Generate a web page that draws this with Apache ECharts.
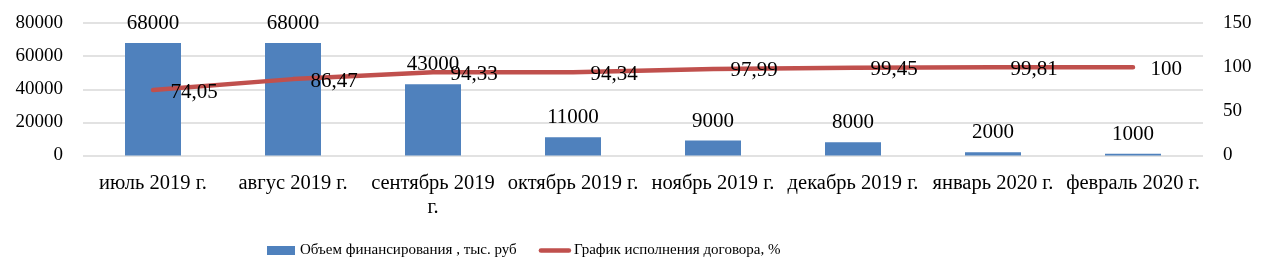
<!DOCTYPE html>
<html><head><meta charset="utf-8">
<script src="https://cdn.jsdelivr.net/npm/echarts@6/dist/echarts.min.js"></script>
<style>html,body{margin:0;padding:0;background:#fff}#c{width:1266px;height:278px}</style>
</head><body><div id="c"></div>
<script>
const categories = ['июль 2019 г.', 'авгус 2019 г.', 'сентябрь 2019\nг.', 'октябрь 2019 г.', 'ноябрь 2019 г.', 'декабрь 2019 г.', 'январь 2020 г.', 'февраль 2020 г.'];
const funding = [68000, 68000, 43000, 11000, 9000, 8000, 2000, 1000];
const progress = [74.05, 86.47, 94.33, 94.34, 97.99, 99.45, 99.81, 100];
const fundingName = 'Объем финансирования , тыс. руб';
const progressName = 'График исполнения договора, %';

const FONT = 'Liberation Serif';
const chart = echarts.init(document.getElementById('c'), null, {renderer: 'canvas'});
chart.setOption({
  animation: false,
  textStyle: {fontFamily: FONT, color: '#000'},
  grid: {left: 83, right: 63, top: 23, bottom: 122.5, containLabel: false},
  legend: {
    left: 262, top: 238, itemWidth: 28, itemHeight: 9, itemGap: 22,
    textStyle: {fontFamily: FONT, fontSize: 15, color: '#000'},
    data: [{name: fundingName, icon: 'rect'},
           {name: progressName, itemStyle: {opacity: 0}, lineStyle: {width: 4.5, cap: 'round'}}]
  },
  xAxis: {
    type: 'category', data: categories,
    axisLine: {show: false}, axisTick: {show: false},
    axisLabel: {fontFamily: FONT, fontSize: 20.5, color: '#000', margin: 16, interval: 0, lineHeight: 24}
  },
  yAxis: [{
    type: 'value', min: 0, max: 80000, interval: 20000,
    axisLine: {show: false}, axisTick: {show: false},
    axisLabel: {fontFamily: FONT, fontSize: 19, color: '#000', margin: 20, formatter: v => String(v)},
    splitLine: {lineStyle: {color: '#d9d9d9', width: 1.5}}
  }, {
    type: 'value', min: 0, max: 150, interval: 50,
    axisLine: {show: false}, axisTick: {show: false},
    axisLabel: {fontFamily: FONT, fontSize: 19, color: '#000', margin: 20, formatter: v => String(v)},
    splitLine: {show: false}
  }],
  series: [{
    name: fundingName, type: 'bar', data: funding, barWidth: '40%',
    itemStyle: {color: '#4F81BD'},
    label: {show: true, position: 'top', distance: 9, fontFamily: FONT, fontSize: 21, color: '#000'}
  }, {
    name: progressName, type: 'line', yAxisIndex: 1, data: progress,
    symbol: 'circle', symbolSize: 1, showSymbol: true,
    lineStyle: {color: '#C0504D', width: 4.5, cap: 'round'},
    itemStyle: {color: '#C0504D'},
    label: {show: true, position: 'right', distance: 17, offset: [0, 2], fontFamily: FONT, fontSize: 21, color: '#000',
      formatter: p => String(p.value).replace('.', ',')}
  }]
});
</script></body></html>
